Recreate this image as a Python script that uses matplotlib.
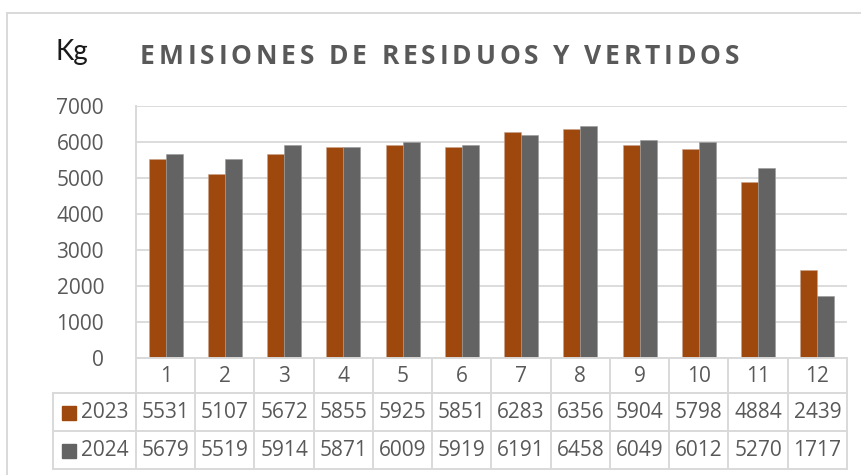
import matplotlib
matplotlib.use("Agg")
import matplotlib.pyplot as plt
from matplotlib.lines import Line2D
from matplotlib.patches import Rectangle

months = ["1", "2", "3", "4", "5", "6", "7", "8", "9", "10", "11", "12"]
series_names = ["2023", "2024"]
values_2023 = [5531, 5107, 5672, 5855, 5925, 5851, 6283, 6356, 5904, 5798, 4884, 2439]
values_2024 = [5679, 5519, 5914, 5871, 6009, 5919, 6191, 6458, 6049, 6012, 5270, 1717]
yticks = [0, 1000, 2000, 3000, 4000, 5000, 6000, 7000]
title = "EMISIONES DE RESIDUOS Y VERTIDOS"
unit_label = "Kg"

C23 = "#9E480E"
C24 = "#636363"
GRID = "#D9D9D9"
TXT = "#595959"

W, H = 862, 475
fig = plt.figure(figsize=(W / 100, H / 100), dpi=100)


def fx(x):
    return x / W


def fy(y):
    return 1 - y / H


# plot area
L, R, T, B = 136, 847, 106, 358
ax = fig.add_axes([fx(L), fy(B), fx(R - L), fy(T) - fy(B)])
ax.set_xlim(0.5, 12.5)
ax.set_ylim(0, 7000)
for s in ax.spines.values():
    s.set_visible(False)
ax.set_xticks([])
ax.set_yticks(yticks)
ax.tick_params(axis="y", length=0, pad=23, labelsize=15, labelcolor=TXT)
for lab in ax.get_yticklabels():
    lab.set_family("Open Sans")
ax.yaxis.grid(True, color=GRID, lw=1.3)
ax.set_axisbelow(True)

x = list(range(1, 13))
bw = 0.287
ax.bar([v - bw / 2 for v in x], values_2023, width=bw, color=C23, edgecolor="#C8A48C", lw=0.4, zorder=3)
ax.bar([v + bw / 2 for v in x], values_2024, width=bw, color=C24, edgecolor="#9A9A9A", lw=0.4, zorder=3)


def hline(y, x0, x1):
    fig.add_artist(Line2D([fx(x0), fx(x1)], [fy(y), fy(y)], color=GRID, lw=1.4))


def vline(x0, y0, y1):
    fig.add_artist(Line2D([fx(x0), fx(x0)], [fy(y0), fy(y1)], color=GRID, lw=1.4))


# chart border
hline(13, 7, 862)
vline(7, 13, 475)

# data table
rows_y = [358, 393, 431, 469]
TL = 53
hline(358, L, R)
for yy in rows_y[1:]:
    hline(yy, TL, R)
vline(TL, 393, 469)
vline(L, T, 469)
colw = (R - L) / 12
for k in range(1, 13):
    vline(L + k * colw, 358, 469)

font_num = dict(family="Open Sans", fontsize=15, color=TXT, ha="center", va="center")
ycent = [(rows_y[i] + rows_y[i + 1]) / 2 + 1 for i in range(3)]
for i, m in enumerate(months):
    cx = L + (i + 0.5) * colw
    fig.text(fx(cx), fy(ycent[0]), m, **font_num)
    fig.text(fx(cx), fy(ycent[1]), str(values_2023[i]), **font_num)
    fig.text(fx(cx), fy(ycent[2]), str(values_2024[i]), **font_num)

for name, col, yc in [(series_names[0], C23, ycent[1]), (series_names[1], C24, ycent[2])]:
    fig.add_artist(Rectangle((fx(62), fy(yc + 7)), fx(14), fy(yc - 7) - fy(yc + 7), color=col,
                             transform=fig.transFigure))
    fig.text(fx(81), fy(yc), name, family="Open Sans", fontsize=15, color=TXT, ha="left", va="center")

# unit label
fig.text(fx(56), fy(60), unit_label, family="Lato", fontweight="normal", fontsize=20, color="#1a1a1a",
         ha="left", va="baseline")

# letter-spaced title
fig.canvas.draw()
renderer = fig.canvas.get_renderer()
tsize = 19
tprops = dict(family="Open Sans", fontsize=tsize, fontweight="bold", color=TXT)
widths = []
for ch in title:
    if ch == " ":
        widths.append(0.26 * tsize * 100 / 72)
    else:
        t = fig.text(0, 0, ch, **tprops)
        widths.append(t.get_window_extent(renderer).width)
        t.remove()
x0, x1 = 140, 739
gap = (x1 - x0 - sum(widths)) / (len(title) - 1)
cur = x0
for ch, w in zip(title, widths):
    if ch != " ":
        fig.text(fx(cur), fy(64), ch, ha="left", va="baseline", **tprops)
    cur += w + gap

fig.savefig("out.png", dpi=100)
